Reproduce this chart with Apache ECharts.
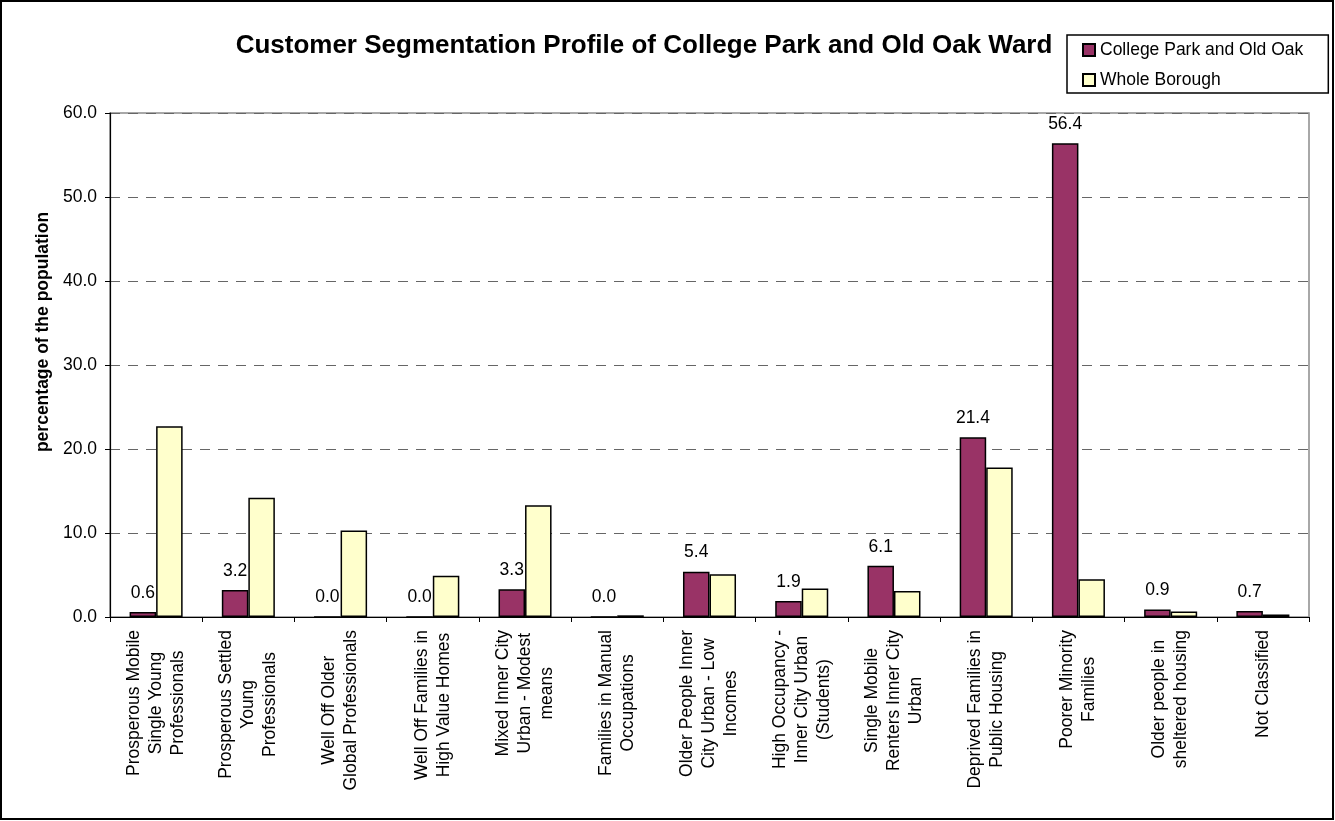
<!DOCTYPE html>
<html>
<head>
<meta charset="utf-8">
<script src="https://cdn.jsdelivr.net/npm/echarts@6/dist/echarts.min.js"></script>
<style>
html,body{margin:0;padding:0;background:#fff;}
#chart{width:1335px;height:821px;}
</style>
</head>
<body>
<div id="chart"></div>
<script>
const categories = [
  "Prosperous Mobile\nSingle Young\nProfessionals",
  "Prosperous Settled\nYoung\nProfessionals",
  "Well Off Older\nGlobal Professionals",
  "Well Off Families in\nHigh Value Homes",
  "Mixed Inner City\nUrban - Modest\nmeans",
  "Families in Manual\nOccupations",
  "Older People Inner\nCity Urban - Low\nIncomes",
  "High Occupancy -\nInner City Urban\n(Students)",
  "Single Mobile\nRenters Inner City\nUrban",
  "Deprived Families in\nPublic Housing",
  "Poorer Minority\nFamilies",
  "Older people in\nsheltered housing",
  "Not Classified"
];
const seriesNames = ["College Park and Old Oak", "Whole Borough"];
const collegePark = [0.6, 3.2, 0.0, 0.0, 3.3, 0.0, 5.4, 1.9, 6.1, 21.4, 56.4, 0.9, 0.7];
const wholeBorough = [22.7, 14.2, 10.3, 4.9, 13.3, 0.2, 5.1, 3.4, 3.1, 17.8, 4.5, 0.65, 0.3];
const yTicks = {min: 0, max: 60, interval: 10};
const titleText = "Customer Segmentation Profile of College Park and Old Oak Ward";
const yAxisName = "percentage of the population";

const FONT = "'Liberation Sans', Arial, sans-serif";
const chart = echarts.init(document.getElementById('chart'), null, {renderer: 'canvas'});
chart.setOption({
  animation: false,
  backgroundColor: '#fff',
  title: {
    text: titleText,
    left: 644,
    textAlign: 'center',
    top: 33,
    padding: 0,
    textStyle: {fontFamily: FONT, fontWeight: 'bold', fontSize: 26, color: '#000'}
  },
  graphic: [{
    type: 'rect',
    shape: {x: 1, y: 1, width: 1332, height: 818},
    style: {fill: null, stroke: '#000', lineWidth: 2},
    silent: true
  }],
  legend: {
    orient: 'vertical',
    left: 1067,
    top: 35,
    padding: [6, 25, 4, 15],
    itemGap: 12,
    itemWidth: 12,
    itemHeight: 12,
    borderColor: '#000',
    borderWidth: 1.5,
    icon: 'rect',
    textStyle: {fontFamily: FONT, fontSize: 17.5, color: '#000'},
    data: seriesNames
  },
  grid: {
    left: 110, right: 26, top: 113, bottom: 204,
    show: true, borderColor: '#8c8c8c', borderWidth: 1.5, backgroundColor: '#fff'
  },
  xAxis: {
    type: 'category',
    data: categories,
    axisLine: {lineStyle: {color: '#000', width: 1.2}},
    axisTick: {show: true, length: 5, lineStyle: {color: '#000'}},
    axisLabel: {
      interval: 0,
      rotate: 90,
      margin: 13,
      color: '#000',
      fontFamily: FONT,
      fontSize: 17.5,
      formatter: function (v) {
        return v.split('\n').map(function (l) { return '{c|' + l + '}'; }).join('\n');
      },
      rich: {
        c: {align: 'center', fontFamily: FONT, fontSize: 17.5, lineHeight: 22, color: '#000'}
      }
    }
  },
  yAxis: {
    type: 'value',
    min: yTicks.min,
    max: yTicks.max,
    interval: yTicks.interval,
    name: yAxisName,
    nameLocation: 'middle',
    nameGap: 58,
    nameTextStyle: {fontFamily: FONT, fontWeight: 'bold', fontSize: 17.5, color: '#000', padding: [0, 0, 0, 66]},
    axisLine: {show: true, lineStyle: {color: '#000', width: 1.2}},
    axisTick: {show: true, length: 5, lineStyle: {color: '#000'}},
    axisLabel: {
      margin: 13,
      color: '#000',
      fontFamily: FONT,
      fontSize: 17.5,
      formatter: function (v) { return v.toFixed(1); }
    },
    splitLine: {show: true, lineStyle: {color: '#666', type: [10, 8], width: 1}}
  },
  series: [
    {
      name: seriesNames[0],
      type: 'bar',
      data: collegePark,
      barGap: '0%',
      barCategoryGap: '42.5%',
      itemStyle: {color: '#993366', borderColor: '#000', borderWidth: 1.5},
      label: {
        show: true,
        position: 'top',
        distance: 10,
        color: '#000',
        fontFamily: FONT,
        fontSize: 17.5,
        formatter: function (p) { return p.value.toFixed(1); }
      }
    },
    {
      name: seriesNames[1],
      type: 'bar',
      data: wholeBorough,
      barGap: '0%',
      barCategoryGap: '42.5%',
      itemStyle: {color: '#FFFFCC', borderColor: '#000', borderWidth: 1.5}
    }
  ]
});
</script>
</body>
</html>
